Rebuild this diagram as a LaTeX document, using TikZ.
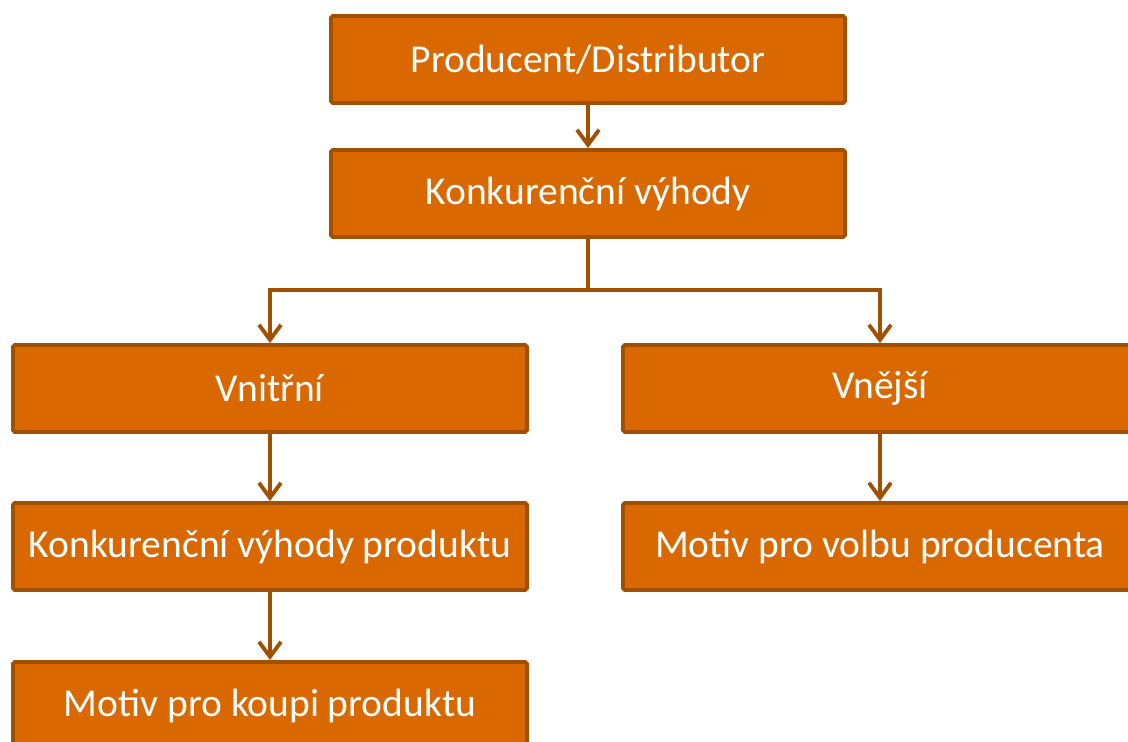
\documentclass[tikz,border=0pt]{standalone}
\usepackage{fontspec}
\setmainfont{Carlito}
\usetikzlibrary{arrows.meta,positioning}
\definecolor{boxfill}{HTML}{D96800}
\definecolor{boxline}{HTML}{A14F00}
\tikzset{
  blok/.style={draw=boxline, fill=boxfill, line width=2.2pt, rounded corners=1pt,
    minimum width=10.28cm, minimum height=1.74cm, inner sep=0pt,
    text=white, font=\fontsize{22.5}{26}\selectfont},
  sipka/.style={draw=boxline, line width=2.2pt,
    -{Straight Barb[length=3mm,width=4.4mm,line width=2.2pt]}}
}
\begin{document}
\begin{tikzpicture}[x=0.02cm,y=-0.02cm]
  \useasboundingbox (0,0) rectangle (1128,742);
  \clip (0,0) rectangle (1128,742);
  % horni cast
  \node[blok] (prod) at (588,59.5) {Producent/Distributor};
  \node[blok] (konk) at (588,193.5) {Konkurenční výhody};
  % dve vetve
  \node[blok] (vnitr) at (270,388.5) {Vnitřní};
  \node[blok] (vnej) at (880,388.5) {Vnější};
  \node[blok] (vyhprod) at (270,546.5) {Konkurenční výhody produktu};
  \node[blok] (volba) at (880,546.5) {Motiv pro volbu producenta};
  \node[blok] (koupe) at (270,705.5) {Motiv pro koupi produktu};
  \coordinate (rozcesti) at (588,290);
  \draw[sipka] (prod) -- (konk);
  \draw[draw=boxline, line width=2.2pt] (konk.south) -- (rozcesti);
  \draw[sipka] (rozcesti) -| (vnitr.north);
  \draw[sipka] (rozcesti) -| (vnej.north);
  \draw[sipka] (vnitr) -- (vyhprod);
  \draw[sipka] (vyhprod) -- (koupe);
  \draw[sipka] (vnej) -- (volba);
\end{tikzpicture}
\end{document}
